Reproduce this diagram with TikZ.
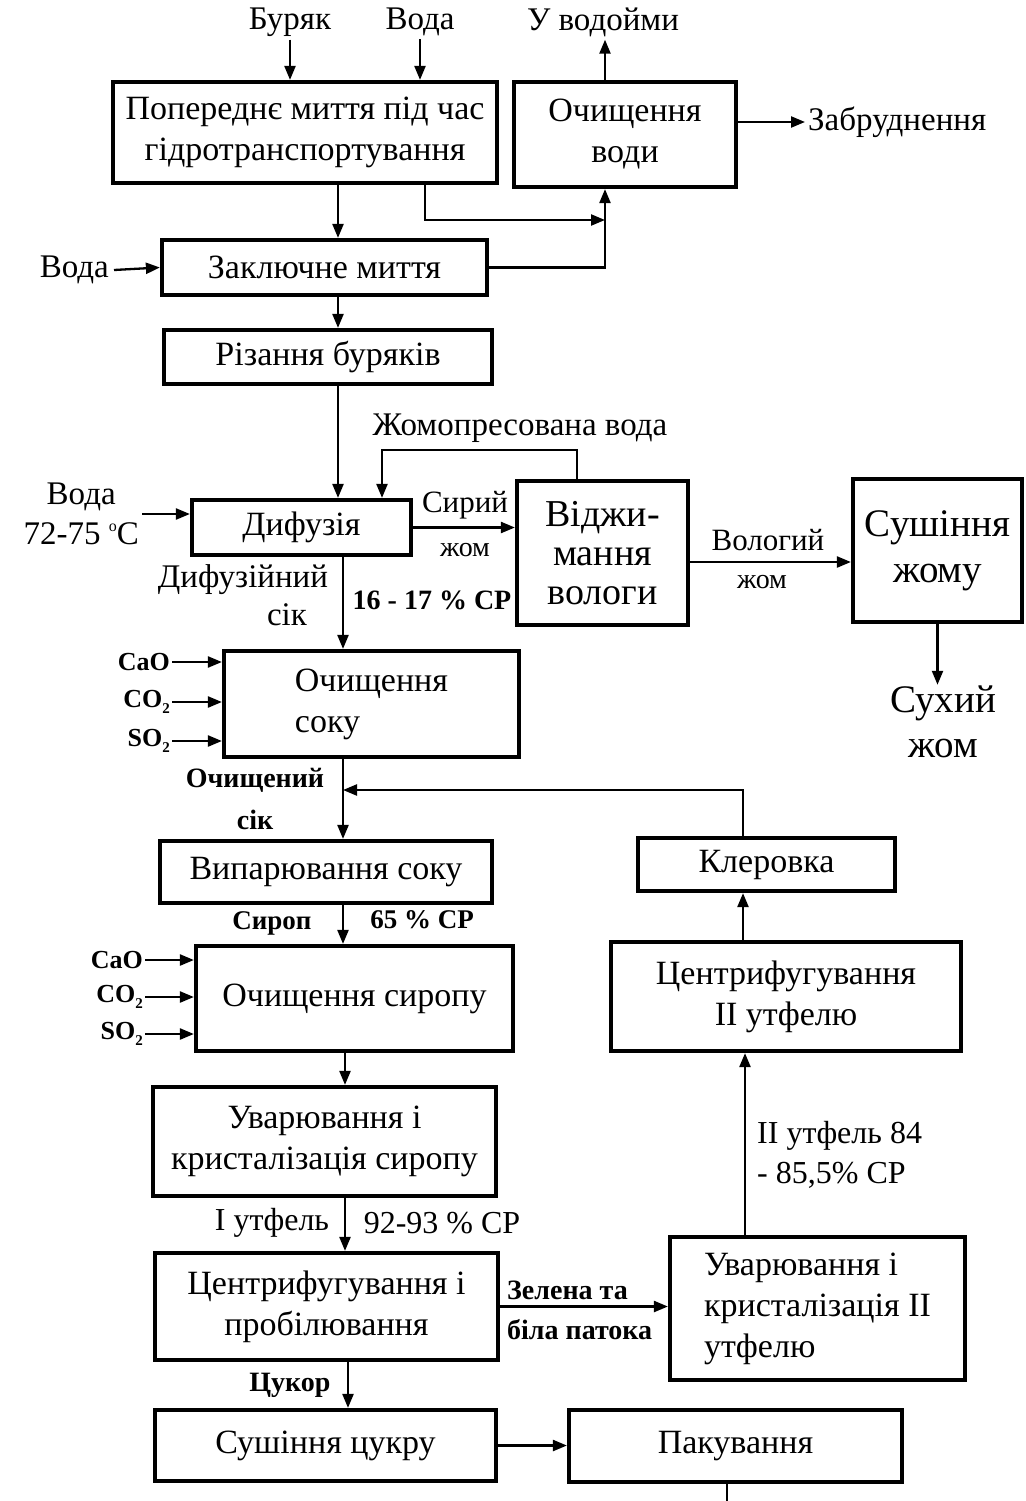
\documentclass[tikz,border=0pt]{standalone}
\usepackage{fontspec}
\setmainfont{Liberation Serif}
\usetikzlibrary{arrows.meta,calc}
\newcommand{\subtwo}{\raisebox{-0.45ex}{\fontsize{15}{15}\selectfont 2}}
\begin{document}
\begin{tikzpicture}[x=1pt,y=-1pt,
  box/.style={draw, line width=4.2pt, align=center, inner sep=2pt, font=\fontsize{34}{41}\selectfont},
  bigbox/.style={box, font=\fontsize{38}{39}\selectfont},
  lab/.style={inner sep=3pt, align=center, font=\fontsize{33}{40}\selectfont},
  blab/.style={inner sep=3pt, align=center, font=\bfseries\fontsize{27}{40}\selectfont},
  chem/.style={inner sep=2pt, font=\bfseries\fontsize{26}{30}\selectfont},
  arr/.style={line width=2.3pt, -{Triangle[length=14pt,width=11pt]}},
  ln/.style={line width=2.3pt}]
\useasboundingbox (0,0) rectangle (1025,1501);

% boxes
\node[box, minimum width=384, minimum height=101] (b1) at (305,132.5) {Попереднє миття під час\\гідротранспортування};
\node[box, minimum width=222, minimum height=105] (b2) at (625,134.5) {Очищення\\води};
\node[box, minimum width=325, minimum height=55] (b3) at (324.5,267.5) {Заключне миття};
\node[box, minimum width=328, minimum height=54] (b4) at (328,357) {Різання буряків};
\node[box, minimum width=219, minimum height=55] (b5) at (301.5,527.5) {Дифузія};
\node[bigbox, minimum width=171, minimum height=144] (b6) at (602.5,553) {Віджи-\\мання\\вологи};
\node[box, font=\fontsize{39}{46}\selectfont, minimum width=169, minimum height=143] (b7) at (937.5,550.5) {Сушіння\\жому};
\node[box, align=left, minimum width=295, minimum height=106] (b8) at (371.5,704) {Очищення\\соку};
\node[box, minimum width=332, minimum height=62] (b9) at (326,872) {Випарювання соку};
\node[box, minimum width=257, minimum height=53] (b10) at (766.5,864.5) {Клеровка};
\node[box, minimum width=317, minimum height=105] (b11) at (354.5,998.5) {Очищення сиропу};
\node[box, minimum width=350, minimum height=109] (b12) at (786,996.5) {Центрифугування\\II утфелю};
\node[box, minimum width=343, minimum height=109] (b13) at (324.5,1141.5) {Уварювання і\\кристалізація сиропу};
\node[box, minimum width=343, minimum height=107] (b14) at (326.5,1306.5) {Центрифугування і\\пробілювання};
\node[box, align=left, minimum width=295, minimum height=143] (b15) at (817.5,1308.5) {Уварювання і\\кристалізація II\\утфелю};
\node[box, minimum width=341, minimum height=71] (b16) at (325.5,1445.5) {Сушіння цукру};
\node[box, minimum width=333, minimum height=72] (b17) at (735.5,1446) {Пакування};

% helper coordinates
\coordinate (c338) at (338,0);
\coordinate (c343) at (343,0);
\coordinate (c345) at (345,0);
\coordinate (c348) at (348,0);
\coordinate (c425) at (425,0);
\coordinate (c605) at (605,0);
\coordinate (c577) at (577,0);
\coordinate (c743) at (743,0);
\coordinate (c745) at (745,0);
\coordinate (j1) at (605,220);
\coordinate (lp) at (382,450);
\coordinate (y562) at (0,562);
\coordinate (m1) at (343,790);
\coordinate (bot) at (727,1501);

% top labels
\node[lab] (lBur) at (290,22) {Буряк};
\node[lab] (lVw) at (420,22) {Вода};
\node[lab] (lVod) at (603,22) {У водойми};
\node[lab, anchor=west] (lZab) at (805,122) {Забруднення};
\node[lab, anchor=east, inner sep=5pt] (lV2) at (114,270) {Вода};

\draw[arr] (lBur.south) -- (b1.north -| lBur.south);
\draw[arr] (lVw.south) -- (b1.north -| lVw.south);
\draw[arr] (b2.north -| c605) -- (lVod.south -| c605);
\draw[arr] (b2.east |- lZab.west) -- (lZab.west);
\draw[arr] (lV2.east) -- (b3.west);
\draw[arr] (b1.south -| c338) -- (b3.north -| c338);
\draw[arr] (b1.south -| c425) |- (j1);
\draw[arr] (b3.east) -| (b2.south -| c605);
\draw[arr] (b3.south -| c338) -- (b4.north -| c338);
\draw[arr] (b4.south -| c338) -- (b5.north -| c338);

% diffusion area
\node[lab] (lZh) at (520,428) {Жомопресована вода};
\draw[arr] (b6.north -| c577) |- (lp) -- (b5.north -| lp);
\node[lab, anchor=east] (lV3) at (142,514) {Вода\\72-75 \raisebox{13pt}{\fontsize{16}{16}\selectfont o}C};
\draw[arr] (lV3.east) -- (b5.west |- lV3.east);
\draw[arr] (b5.east) -- (b6.west |- b5.east);
\node[lab, font=\fontsize{31}{40}\selectfont] (lSyr) at (465,505) {Сирий};
\node[lab, font=\fontsize{28}{40}\selectfont] (lZh1) at (465,550) {жом};
\draw[arr] (b6.east |- y562) -- (b7.west |- y562);
\node[lab, font=\fontsize{31}{40}\selectfont] (lVol) at (768,540) {Вологий};
\node[lab, font=\fontsize{28}{40}\selectfont] (lZh2) at (762,582) {жом};
\node[lab, font=\fontsize{39}{45}\selectfont, inner sep=1pt] (lSux) at (943,722) {Сухий\\жом};
\draw[arr] (b7.south) -- (b7.south |- lSux.north);

\draw[arr] (b5.south -| c343) -- (b8.north -| c343);
\node[lab, font=\fontsize{33}{35}\selectfont] (lDs) at (243,580) {Дифузійний};
\node[lab, font=\fontsize{33}{35}\selectfont] (lDs2) at (287,615) {сік};
\node[blab, font=\bfseries\fontsize{28}{40}\selectfont] (lCp1) at (432,600) {16 - 17 \% СР};

\node[chem, anchor=east] (ca1) at (172,662) {CaO};
\node[chem, anchor=east] (co1) at (172,702) {CO\subtwo};
\node[chem, anchor=east] (so1) at (172,741) {SO\subtwo};
\draw[arr] (ca1.east) -- (b8.west |- ca1.east);
\draw[arr] (co1.east) -- (b8.west |- co1.east);
\draw[arr] (so1.east) -- (b8.west |- so1.east);

\draw[arr] (b8.south -| c343) -- (b9.north -| c343);
\node[blab, font=\bfseries\fontsize{28}{42}\selectfont] (lOch) at (255,799) {Очищений\\сік};
\draw[arr] (b10.north -| c743) |- (m1);

\draw[arr] (b9.south -| c343) -- (b11.north -| c343);
\node[blab] (lSir) at (272,923) {Сироп};
\node[blab] (lCp2) at (422,920) {65 \% СР};

\node[chem, anchor=east] (ca2) at (145,960) {CaO};
\node[chem, anchor=east] (co2) at (145,997) {CO\subtwo};
\node[chem, anchor=east] (so2) at (145,1034) {SO\subtwo};
\draw[arr] (ca2.east) -- (b11.west |- ca2.east);
\draw[arr] (co2.east) -- (b11.west |- co2.east);
\draw[arr] (so2.east) -- (b11.west |- so2.east);

\draw[arr] (b11.south -| c345) -- (b13.north -| c345);
\draw[arr] (b13.south -| c345) -- (b14.north -| c345);
\node[lab, font=\fontsize{32}{40}\selectfont] (lUt) at (272,1223) {I утфель};
\node[lab, font=\fontsize{32}{40}\selectfont] (lCp3) at (442,1223) {92-93 \% СР};

\draw[arr] (b14.south -| c348) -- (b16.north -| c348);
\node[blab, font=\bfseries\fontsize{28}{40}\selectfont] (lCuk) at (290,1385) {Цукор};

\draw[arr] (b14.east) -- (b15.west |- b14.east);
\node[blab, align=left, anchor=west, font=\bfseries\fontsize{28}{40}\selectfont] (lZel) at (504,1310) {Зелена та\\біла патока};

\draw[arr] (b15.north -| c745) -- (b12.south -| c745);
\node[lab, align=left, anchor=west, font=\fontsize{32}{40}\selectfont] (lUt2) at (754,1155) {II утфель 84\\- 85,5\% СР};
\draw[arr] (b12.north -| c743) -- (b10.south -| c743);

\draw[arr] (b16.east) -- (b17.west |- b16.east);
\draw[ln] (b17.south -| bot) -- (bot);
\end{tikzpicture}
\end{document}
